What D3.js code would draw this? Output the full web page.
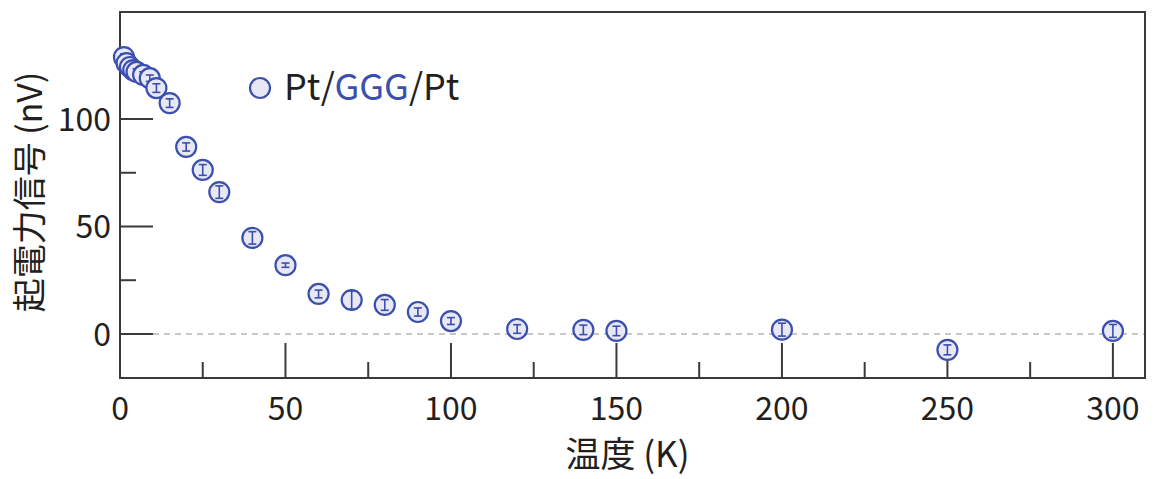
<!DOCTYPE html>
<html>
<head>
<meta charset="utf-8">
<script src="https://cdn.jsdelivr.net/npm/d3@7"></script>
<style>
    body { margin: 0; background: #fff; }
    text { font-family: "Noto Sans CJK JP", "Noto Sans", sans-serif; }
</style>
</head>
<body>
<div id="chart"></div>
<script>
// temperature (K)
let temps = [1.2, 2, 3, 4, 5, 7, 9, 11, 15, 20, 25, 30, 40, 50, 60, 70, 80, 90, 100, 120, 140, 150, 200, 250, 300]
// signal (nV)
let signal = [128.8, 126, 124.2, 122.8, 121.9, 120.5, 119, 114.4, 107.4, 87, 76.3, 66, 44.7, 32, 18.6, 15.8, 13.5, 10.2, 6, 2.3, 1.9, 1.4, 2, -7.4, 1.4]
// error (+/- nV)
let errs = [1.5, 1.5, 1.5, 1.5, 1.5, 1.5, 1.5, 2, 2, 1.9, 2.5, 2.9, 2.9, 1, 1.8, 4.2, 2.5, 1.9, 1.6, 2, 2.2, 2.2, 3, 2.3, 3]

let xMajor = [0, 50, 100, 150, 200, 250, 300]
let xMinor = [25, 75, 125, 175, 225, 275]
let yMajor = [0, 50, 100]
let yMinor = [25, 75, 125]

let legendParts = ["Pt/", "GGG", "/Pt"]

createVis()

function createVis() {
    var margin = { top: 12, right: 8, bottom: 101, left: 120 },
        width = 1153 - margin.left - margin.right,
        height = 479 - margin.top - margin.bottom;

    var blue = "#3a4fae", fill = "#e8e8f5", axisCol = "#3a3a3a", txt = "#231f20"

    var svg = d3.select("#chart")
        .append("svg")
        .attr("width", 1153)
        .attr("height", 479)
        .append("g")
        .attr("transform", "translate(" + margin.left + "," + margin.top + ")");

    var x = d3.scaleLinear().domain([0, 309.7]).range([0, width])
    var y = d3.scaleLinear().domain([-20.5, 149.8]).range([height, 0])

    // zero line
    svg.append("line")
        .attr("x1", 0).attr("x2", width)
        .attr("y1", y(0)).attr("y2", y(0))
        .attr("stroke", "#b5b5b5").attr("stroke-width", 1.5)
        .attr("stroke-dasharray", "6,5")

    // frame
    svg.append("rect")
        .attr("width", width).attr("height", height)
        .attr("fill", "none").attr("stroke", axisCol).attr("stroke-width", 2)

    // x ticks (inward)
    svg.selectAll("xmaj").data(xMajor.filter(d => d > 0)).enter().append("line")
        .attr("x1", d => x(d)).attr("x2", d => x(d))
        .attr("y1", height).attr("y2", height - 35)
        .attr("stroke", axisCol).attr("stroke-width", 2)
    svg.selectAll("xmin").data(xMinor).enter().append("line")
        .attr("x1", d => x(d)).attr("x2", d => x(d))
        .attr("y1", height).attr("y2", height - 16)
        .attr("stroke", axisCol).attr("stroke-width", 2)
    svg.selectAll("xlab").data(xMajor).enter().append("text")
        .attr("x", d => x(d)).attr("y", height + 42)
        .attr("text-anchor", "middle")
        .attr("font-size", 32).attr("fill", txt)
        .text(d => d)

    // y ticks (inward)
    svg.selectAll("ymaj").data(yMajor).enter().append("line")
        .attr("x1", 0).attr("x2", 33)
        .attr("y1", d => y(d)).attr("y2", d => y(d))
        .attr("stroke", axisCol).attr("stroke-width", 2)
    svg.selectAll("ymin").data(yMinor).enter().append("line")
        .attr("x1", 0).attr("x2", 16)
        .attr("y1", d => y(d)).attr("y2", d => y(d))
        .attr("stroke", axisCol).attr("stroke-width", 2)
    svg.selectAll("ylab").data(yMajor).enter().append("text")
        .attr("x", -9).attr("y", d => y(d) + 12)
        .attr("text-anchor", "end")
        .attr("font-size", 32).attr("fill", txt)
        .text(d => d)

    // axis titles
    svg.append("text")
        .attr("x", width / 2 - 5).attr("y", height + 89)
        .attr("text-anchor", "middle")
        .attr("font-size", 35).attr("fill", txt)
        .text("温度 (K)")
    svg.append("text")
        .attr("transform", "translate(" + (-78) + "," + 180 + ")rotate(-90)")
        .attr("text-anchor", "middle")
        .attr("font-size", 34).attr("fill", txt)
        .text("起電力信号 (nV)")

    var data = temps.map(function (t, i) { return { t: t, v: signal[i], e: errs[i] } })

    // markers
    var pts = svg.selectAll("pt").data(data).enter().append("g")
        .attr("transform", d => "translate(" + x(d.t) + "," + y(d.v) + ")")
    pts.append("circle")
        .attr("r", 10)
        .attr("fill", fill).attr("stroke", blue).attr("stroke-width", 2.2)
    pts.append("line")
        .attr("x1", 0).attr("x2", 0)
        .attr("y1", d => y(d.v + d.e) - y(d.v)).attr("y2", d => y(d.v - d.e) - y(d.v))
        .attr("stroke", blue).attr("stroke-width", 1.6)
    pts.append("line")
        .attr("x1", -4).attr("x2", 4)
        .attr("y1", d => y(d.v + d.e) - y(d.v)).attr("y2", d => y(d.v + d.e) - y(d.v))
        .attr("stroke", blue).attr("stroke-width", 1.6)
    pts.append("line")
        .attr("x1", -4).attr("x2", 4)
        .attr("y1", d => y(d.v - d.e) - y(d.v)).attr("y2", d => y(d.v - d.e) - y(d.v))
        .attr("stroke", blue).attr("stroke-width", 1.6)

    // legend
    var lg = svg.append("g").attr("transform", "translate(140,76)")
    lg.append("circle").attr("r", 10)
        .attr("fill", fill).attr("stroke", blue).attr("stroke-width", 2.2)
    var lt = lg.append("text").attr("x", 24).attr("y", 12)
        .attr("font-size", 36).attr("fill", txt)
    lt.selectAll("tspan").data(legendParts).enter().append("tspan")
        .attr("fill", (d, i) => i == 1 ? blue : txt)
        .text(d => d)
}
</script>
</body>
</html>
